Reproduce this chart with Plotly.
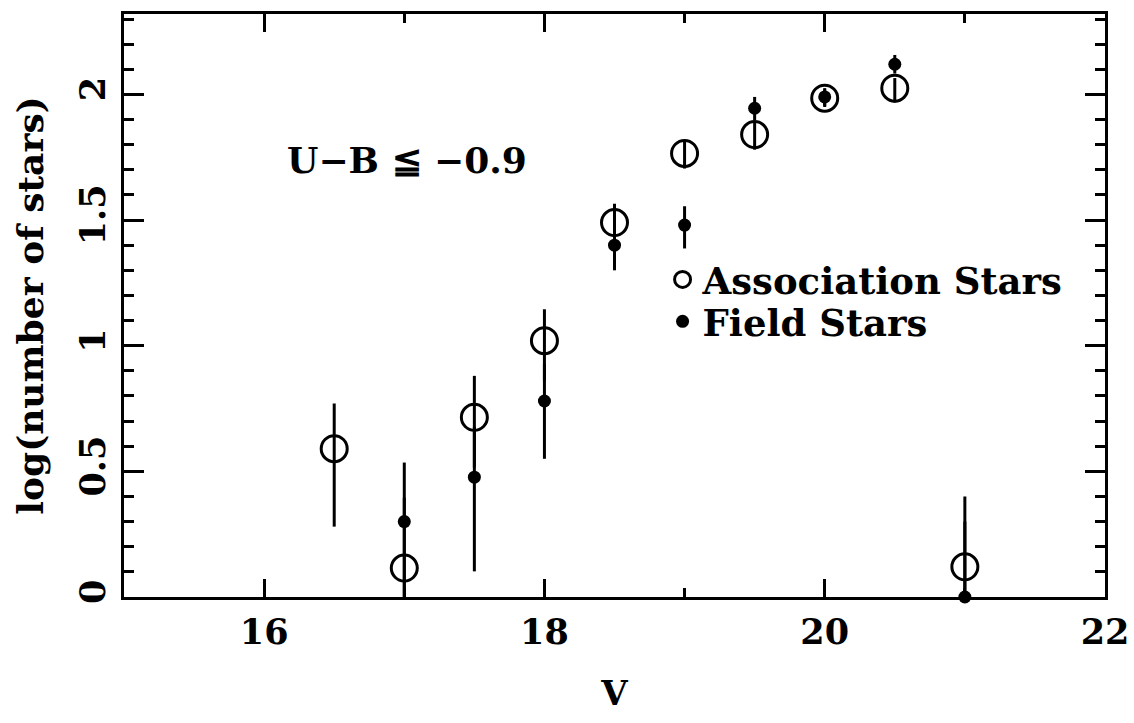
import plotly.graph_objects as go

# Magnitude bins (V) and log star counts
v_assoc = [16.5, 17, 17.5, 18, 18.5, 19, 19.5, 20, 20.5, 21]
log_assoc = [0.59, 0.115, 0.715, 1.02, 1.49, 1.765, 1.84, 1.985, 2.025, 0.12]
assoc_err_plus = [0.18, 0.28, 0.165, 0.125, 0.075, 0.054, 0.05, 0.035, 0.04, 0.28]
assoc_err_minus = [0.31, 0.115, 0.2, 0.16, 0.075, 0.06, 0.06, 0.035, 0.057, 0.12]

v_field = [17, 17.5, 18, 18.5, 19, 19.5, 20, 20.5, 21]
log_field = [0.30, 0.477, 0.78, 1.40, 1.48, 1.945, 1.99, 2.12, 0.0]
field_err_plus = [0.235, 0.20, 0.147, 0.08, 0.075, 0.045, 0.035, 0.037, 0.3]
field_err_minus = [0.30, 0.375, 0.23, 0.10, 0.093, 0.048, 0.035, 0.037, 0.0]

FONT = "DejaVu Serif"
INK = "black"

fig = go.Figure()

fig.add_trace(go.Scatter(
    x=v_assoc, y=log_assoc, mode="markers", name="Association Stars",
    marker=dict(symbol="circle-open", size=26, color=INK, line=dict(width=3, color=INK)),
    error_y=dict(type="data", array=assoc_err_plus, arrayminus=assoc_err_minus,
                 symmetric=False, width=0, thickness=3, color=INK),
    legend="legend",
))

fig.add_trace(go.Scatter(
    x=v_field, y=log_field, mode="markers", name="Field Stars",
    marker=dict(symbol="circle", size=13, color=INK),
    error_y=dict(type="data", array=field_err_plus, arrayminus=field_err_minus,
                 symmetric=False, width=0, thickness=3, color=INK),
    cliponaxis=False,
    legend="legend2",
))

fig.add_annotation(
    x=16.15, y=1.74, xref="x", yref="y", xanchor="left", yanchor="middle",
    text="U\u2212B \u2266 \u22120.9", showarrow=False,
    font=dict(family=FONT, size=36, color=INK, weight="bold"),
)

axis_common = dict(
    showgrid=False, zeroline=False, showline=True, linecolor=INK, linewidth=3,
    mirror="allticks", ticks="inside", tickcolor=INK, tickwidth=3,
    tickfont=dict(family=FONT, size=35, color=INK, weight="bold"),
    ticklabelstandoff=2, automargin=False,
)

fig.update_xaxes(
    range=[15, 22], tickmode="array", tickvals=[16, 18, 20, 22],
    ticktext=["16", "18", "20", "22"], ticklen=18,
    minor=dict(dtick=1, tick0=15, ticks="inside", ticklen=9, tickwidth=3, tickcolor=INK),
    title=dict(text="V", font=dict(family=FONT, size=34, color=INK, weight="bold"), standoff=31),
    **axis_common,
)
fig.update_yaxes(
    range=[0, 2.32], tickmode="array", tickvals=[0, 0.5, 1, 1.5, 2],
    ticktext=["0", "0.5", "1", "1.5", "2"], ticklen=20, tickangle=-90,
    minor=dict(dtick=0.1, tick0=0, ticks="inside", ticklen=10, tickwidth=3, tickcolor=INK),
    title=dict(text="log(number of stars)", font=dict(family=FONT, size=36, color=INK, weight="bold"),
               standoff=18),
    **axis_common,
)

legend_style = dict(xanchor="left", yanchor="middle", bgcolor="rgba(0,0,0,0)", borderwidth=0,
                    font=dict(family=FONT, size=37, color=INK, weight="bold"),
                    itemsizing="trace")

fig.update_layout(
    width=1134, height=723,
    margin=dict(l=124, r=29, t=14, b=126),
    paper_bgcolor="white", plot_bgcolor="white",
    showlegend=True,
    legend=dict(x=0.549, y=0.544, **legend_style),
    legend2=dict(x=0.549, y=0.472, **legend_style),
)

fig.write_html("out.html")
